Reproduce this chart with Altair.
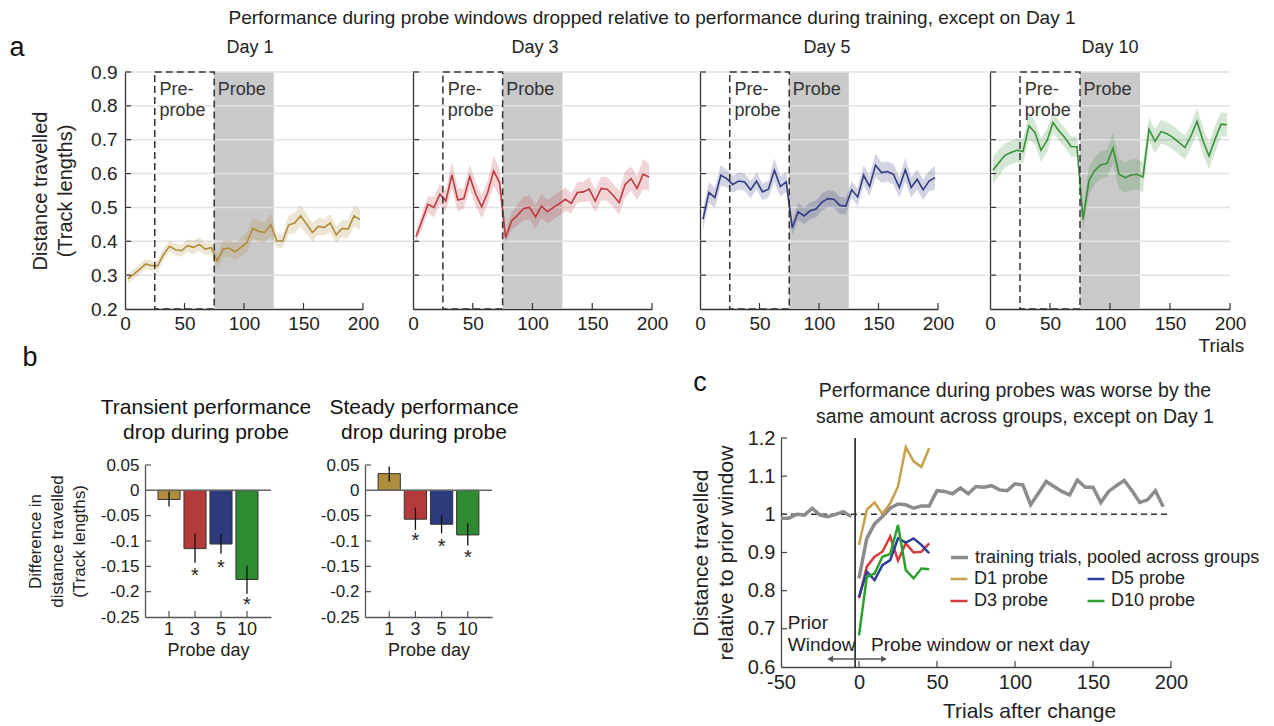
import altair as alt
import pandas as pd

FONT = "Liberation Sans"
TXT = "#222222"

# ---------------- Panel a data ----------------
trial_mid = [2.5 + 5 * i for i in range(40)]
day_names = ["Day 1", "Day 3", "Day 5", "Day 10"]
day_colors = ["#b08c3c", "#be3a40", "#323c82", "#3a8f3a"]

day1_mean = [0.290, 0.303, 0.318, 0.333, 0.328, 0.328, 0.362, 0.385, 0.375, 0.372,
             0.387, 0.382, 0.391, 0.377, 0.381, 0.342, 0.377, 0.380, 0.369, 0.382,
             0.397, 0.438, 0.429, 0.426, 0.450, 0.401, 0.401, 0.448, 0.454, 0.475,
             0.451, 0.426, 0.444, 0.441, 0.454, 0.419, 0.438, 0.436, 0.475, 0.464]
day1_err = [0.015, 0.015, 0.015, 0.015, 0.015, 0.015, 0.017, 0.017, 0.017, 0.018,
            0.018, 0.020, 0.020, 0.018, 0.020, 0.020, 0.025, 0.025, 0.025, 0.027,
            0.030, 0.030, 0.032, 0.030, 0.035, 0.020, 0.020, 0.028, 0.030, 0.032,
            0.030, 0.028, 0.025, 0.025, 0.027, 0.025, 0.025, 0.027, 0.030, 0.030]

day3_mean = [0.414, 0.460, 0.509, 0.500, 0.539, 0.519, 0.596, 0.522, 0.526, 0.591,
             0.539, 0.502, 0.544, 0.608, 0.573, 0.411, 0.460, 0.477, 0.497, 0.500,
             0.472, 0.504, 0.487, 0.500, 0.511, 0.524, 0.512, 0.544, 0.546, 0.554,
             0.519, 0.556, 0.554, 0.536, 0.514, 0.568, 0.585, 0.556, 0.598, 0.590]
day3_err = [0.015, 0.025, 0.025, 0.030, 0.030, 0.030, 0.040, 0.035, 0.030, 0.035,
            0.035, 0.035, 0.035, 0.045, 0.040, 0.015, 0.025, 0.030, 0.035, 0.035,
            0.035, 0.035, 0.035, 0.035, 0.035, 0.035, 0.030, 0.030, 0.030, 0.035,
            0.035, 0.035, 0.035, 0.035, 0.035, 0.040, 0.035, 0.035, 0.045, 0.040]

day5_mean = [0.465, 0.544, 0.529, 0.595, 0.585, 0.568, 0.578, 0.575, 0.552, 0.578,
             0.546, 0.554, 0.610, 0.562, 0.575, 0.440, 0.487, 0.475, 0.490, 0.495,
             0.516, 0.526, 0.524, 0.506, 0.504, 0.552, 0.531, 0.595, 0.562, 0.625,
             0.603, 0.606, 0.598, 0.559, 0.611, 0.559, 0.583, 0.552, 0.578, 0.588]
day5_err = [0.030, 0.030, 0.030, 0.030, 0.025, 0.025, 0.025, 0.025, 0.025, 0.025,
            0.025, 0.025, 0.035, 0.030, 0.030, 0.020, 0.025, 0.025, 0.025, 0.025,
            0.025, 0.025, 0.025, 0.025, 0.025, 0.025, 0.025, 0.030, 0.030, 0.035,
            0.030, 0.030, 0.030, 0.030, 0.035, 0.030, 0.030, 0.030, 0.030, 0.035]

day10_mean = [0.610, 0.633, 0.654, 0.662, 0.669, 0.665, 0.741, 0.721, 0.669, 0.697,
              0.751, 0.726, 0.706, 0.680, 0.679, 0.465, 0.580, 0.610, 0.626, 0.630,
              0.675, 0.598, 0.588, 0.596, 0.598, 0.590, 0.731, 0.695, 0.724, 0.718,
              0.706, 0.692, 0.677, 0.711, 0.754, 0.697, 0.652, 0.701, 0.746, 0.744]
day10_err = [0.040, 0.040, 0.035, 0.035, 0.035, 0.035, 0.040, 0.035, 0.035, 0.035,
             0.030, 0.030, 0.030, 0.030, 0.030, 0.030, 0.040, 0.040, 0.040, 0.040,
             0.045, 0.045, 0.045, 0.045, 0.045, 0.045, 0.035, 0.035, 0.035, 0.035,
             0.035, 0.035, 0.035, 0.035, 0.040, 0.040, 0.040, 0.040, 0.035, 0.035]

day_means = [day1_mean, day3_mean, day5_mean, day10_mean]
day_errs = [day1_err, day3_err, day5_err, day10_err]

preprobe_window = [25, 75]
probe_window = [75, 125]
a_yticks = [0.2, 0.3, 0.4, 0.5, 0.6, 0.7, 0.8, 0.9]
a_xticks = [0, 50, 100, 150, 200]

MAIN_TITLE = ("Performance during probe windows dropped relative to performance "
              "during training, except on Day 1")

# ---------------- Panel b data ----------------
probe_days = ["1", "3", "5", "10"]
bar_colors = ["#b08d3a", "#b43a3c", "#2d3a7e", "#2f8b32"]
trans_mean = [-0.018, -0.115, -0.106, -0.176]
trans_lo = [-0.032, -0.143, -0.125, -0.204]
trans_hi = [-0.003, -0.085, -0.086, -0.149]
trans_star = [None, -0.159, -0.143, -0.217]
steady_mean = [0.033, -0.057, -0.067, -0.088]
steady_lo = [0.017, -0.078, -0.085, -0.109]
steady_hi = [0.047, -0.034, -0.049, -0.065]
steady_star = [None, -0.090, -0.101, -0.123]
b_yticks = [0.05, 0.0, -0.05, -0.1, -0.15, -0.2, -0.25]

# ---------------- Panel c data ----------------
train_pre_x = [-50, -45, -40, -35, -30, -25, -20, -15, -10, -5]
train_pre_y = [0.990, 0.990, 1.000, 0.998, 1.016, 0.998, 0.994, 1.000, 1.007, 0.994]
train_post_x = [5 * i for i in range(40)]
train_post_y = [0.832, 0.937, 0.975, 0.994, 1.016, 1.027, 1.025, 1.016, 1.022, 1.022,
                1.062, 1.060, 1.054, 1.069, 1.054, 1.073, 1.071, 1.075, 1.064, 1.062,
                1.080, 1.077, 1.025, 1.055, 1.086, 1.073, 1.060, 1.051, 1.090, 1.071,
                1.071, 1.031, 1.060, 1.075, 1.089, 1.062, 1.031, 1.038, 1.062, 1.020]
probe_x = [0, 5, 10, 15, 20, 25, 30, 35, 40, 45]
d1_probe = [0.920, 1.012, 1.031, 1.001, 1.029, 1.073, 1.176, 1.139, 1.124, 1.174]
d3_probe = [0.780, 0.863, 0.889, 0.902, 0.942, 0.879, 0.924, 0.900, 0.902, 0.924]
d5_probe = [0.784, 0.850, 0.828, 0.867, 0.880, 0.937, 0.926, 0.937, 0.920, 0.898]
d10_probe = [0.683, 0.836, 0.845, 0.889, 0.896, 0.972, 0.854, 0.832, 0.858, 0.856]
probe_names = ["D1 probe", "D3 probe", "D5 probe", "D10 probe"]
probe_colors = ["#c6a24c", "#d23c3c", "#2c3e9c", "#2ca02c"]
train_label = "training trials, pooled across groups"
change_x = -2.5
c_xticks = [-50, 0, 50, 100, 150, 200]
c_yticks = [0.6, 0.7, 0.8, 0.9, 1.0, 1.1, 1.2]

# ---------------- layout (pixels, relative to the shared plot origin) ----------------
W, H = 1105, 595
PAD = {"left": 125, "top": 72, "right": 44, "bottom": 59}
A_XR = [[0, 238], [288, 527], [575, 813], [865, 1105]]
A_YR = [237, 0]
B_XR = [[20, 146], [240, 367]]
B_YR = [545, 393]
C_XR = [656, 1046]
C_YR = [595, 366]
TICK = 6

one = pd.DataFrame({"v": [0]})


def label_text(x, y, txt, size, color=TXT, align="center"):
    return alt.Chart(one).mark_text(fontSize=size, color=color, align=align,
                                    baseline="middle").encode(
        x=alt.value(x), y=alt.value(y), text=alt.value(txt))


def inward_ticks(xvals, yvals, X, Y, xr, yr, xf="t", yf="t", color="#333333"):
    xt = alt.Chart(pd.DataFrame({xf: xvals})).mark_rule(color=color, strokeWidth=1.2).encode(
        x=X(xf), y=alt.value(yr[0]), y2=alt.value(yr[0] - TICK))
    yt = alt.Chart(pd.DataFrame({yf: yvals})).mark_rule(color=color, strokeWidth=1.2).encode(
        y=Y(yf), x=alt.value(xr[0]), x2=alt.value(xr[0] + TICK))
    return [xt, yt]


# ---------------- Panel a ----------------
def day_panel(idx):
    first = idx == 0
    last = idx == 3
    col = day_colors[idx]
    xr = A_XR[idx]
    xs = alt.Scale(domain=[0, 200], range=xr, nice=False, zero=False)
    ys = alt.Scale(domain=[0.2, 0.9], range=A_YR, nice=False, zero=False)
    xkw = dict(orient="bottom", offset=A_YR[0] - H, values=a_xticks, labelFontSize=19,
               labelPadding=5, domainColor="#333333", domainWidth=1.3, ticks=False,
               grid=False, labelFlush=False)
    if last:
        xkw.update(title="Trials", titleFontSize=19, titleFontWeight="normal",
                   titleX=1073, titleY=36, titleAlign="left", titleBaseline="middle")
    else:
        xkw.update(title=None)
    ykw = dict(orient="left", offset=-xr[0], values=a_yticks, labels=first, format=".1f",
               labelFontSize=19, labelPadding=8, ticks=False, grid=False,
               domainColor="#333333", domainWidth=1.3)
    if first:
        ykw.update(title=["Distance travelled", "(Track lengths)"], titleFontSize=20,
                   titleFontWeight="normal", titlePadding=15, titleLineHeight=25)
    else:
        ykw.update(title=None)
    xax = alt.Axis(**xkw)
    yax = alt.Axis(**ykw)

    def X(f):
        return alt.X(f, type="quantitative", scale=xs, axis=xax)

    def Y(f):
        return alt.Y(f, type="quantitative", scale=ys, axis=yax)

    vals = day_means[idx]
    errs = day_errs[idx]
    df = pd.DataFrame({
        "trial": trial_mid,
        "dist": vals,
        "lo": [v - e for v, e in zip(vals, errs)],
        "hi": [v + e for v, e in zip(vals, errs)],
    })
    probe = alt.Chart(pd.DataFrame({"x0": [probe_window[0]], "x1": [probe_window[1]],
                                    "y0": [0.2], "y1": [0.9]})).mark_rect(
        fill="#c9c9c9").encode(x=X("x0"), x2="x1", y=Y("y0"), y2="y1")
    grid = alt.Chart(pd.DataFrame({"g": a_yticks[1:]})).mark_rule(
        color="#e2e2e2", strokeWidth=1.5).encode(
        y=Y("g"), x=alt.value(xr[0]), x2=alt.value(xr[1] + (0 if last else 50)))
    band = alt.Chart(df).mark_area(color=col, opacity=0.22).encode(
        x=X("trial"), y=Y("lo"), y2="hi")
    line = alt.Chart(df).mark_line(color=col, strokeWidth=1.6).encode(
        x=X("trial"), y=Y("dist"))
    box = alt.Chart(pd.DataFrame({"x0": [preprobe_window[0]], "x1": [preprobe_window[1]],
                                  "y0": [0.2], "y1": [0.9]})).mark_rect(
        fillOpacity=0, stroke="#333333", strokeDash=[7, 4], strokeWidth=1.5).encode(
        x=X("x0"), x2="x1", y=Y("y0"), y2="y1")
    labels = alt.Chart(pd.DataFrame({"x": [29, 29, 78], "y": [0.847, 0.786, 0.847],
                                     "t": ["Pre-", "probe", "Probe"]})).mark_text(
        align="left", baseline="middle", fontSize=18, color="#333333").encode(
        x=X("x"), y=Y("y"), text="t:N")
    ticks = inward_ticks(a_xticks[1:], a_yticks[1:], X, Y, xr, A_YR)
    return alt.layer(probe, grid, band, line, box, labels, *ticks)


# ---------------- Panel b ----------------
def bar_panel(idx, means, los, his, stars):
    first = idx == 0
    xr = B_XR[idx]
    df = pd.DataFrame({"day": probe_days, "m": means, "lo": los, "hi": his,
                       "col": bar_colors, "z": [0.0] * 4})
    sdf = pd.DataFrame({"day": [d for d, s in zip(probe_days, stars) if s is not None],
                        "s": [s for s in stars if s is not None]})
    ys = alt.Scale(domain=[-0.25, 0.05], range=B_YR, nice=False, zero=False)
    xs = alt.Scale(domain=probe_days, range=xr, paddingInner=0.15, paddingOuter=0.5)
    xax = alt.Axis(orient="bottom", offset=B_YR[0] - H, labelAngle=0, labelFontSize=18,
                   labelPadding=3, ticks=False, domainColor="#555555", domainWidth=1.3,
                   title="Probe day", titleFontSize=18, titleFontWeight="normal",
                   titlePadding=3)
    ykw = dict(orient="left", offset=-xr[0], values=b_yticks,
               labelExpr="toString(round(datum.value*100)/100)",
               labelFontSize=17, labelPadding=6, ticks=False, grid=False,
               domainColor="#555555", domainWidth=1.3)
    if first:
        ykw.update(title=["Difference in", "distance travelled", "(Track lengths)"],
                   titleFontSize=17, titleFontWeight="normal", titleLineHeight=22,
                   titlePadding=12)
    else:
        ykw.update(title=None)
    yax = alt.Axis(**ykw)

    def Xf(f):
        return alt.X(f, type="nominal", sort=probe_days, scale=xs, axis=xax)

    X = Xf("day")

    def Y(f):
        return alt.Y(f, type="quantitative", scale=ys, axis=yax)

    bars = alt.Chart(df).mark_bar(stroke="#333333", strokeWidth=1).encode(
        x=X, y=Y("m"), y2="z", color=alt.Color("col:N", scale=None))
    zero = alt.Chart(df.head(1)).mark_rule(color="#666666", strokeWidth=1.5).encode(
        y=Y("z"), x=alt.value(xr[0]), x2=alt.value(xr[1]))
    err = alt.Chart(df).mark_rule(color="#111111", strokeWidth=1.3).encode(
        x=X, y=Y("lo"), y2="hi")
    star = alt.Chart(sdf).mark_text(text="*", fontSize=20, color="#222222",
                                    baseline="middle", dy=5).encode(x=X, y=Y("s"))
    ticks = inward_ticks(probe_days, [t for t in b_yticks if t not in (0.0, -0.25)],
                         Xf, Y, xr, B_YR, xf="day", yf="m", color="#555555")
    return alt.layer(bars, zero, err, star, *ticks)


# ---------------- Panel c ----------------
def c_panel():
    xs = alt.Scale(domain=[-50, 200], range=C_XR, nice=False, zero=False)
    ys = alt.Scale(domain=[0.6, 1.2], range=C_YR, nice=False, zero=False)
    xax = alt.Axis(orient="bottom", offset=0, values=c_xticks,
                   labelExpr="toString(datum.value)", labelFontSize=20,
                   labelPadding=5, ticks=False, grid=False, domainColor="#444444",
                   domainWidth=1.3, title="Trials after change", titleFontSize=21,
                   titleFontWeight="normal", titlePadding=8, labelFlush=False,
                   titleX=904)
    yax = alt.Axis(orient="left", offset=-C_XR[0], values=c_yticks,
                   labelExpr="toString(round(datum.value*10)/10)",
                   labelFontSize=20, labelPadding=6, ticks=False, grid=False,
                   domainColor="#444444", domainWidth=1.3,
                   title=["Distance travelled", "relative to prior window"],
                   titleFontSize=21, titleFontWeight="normal", titlePadding=11,
                   titleLineHeight=25)

    def X(f):
        return alt.X(f, type="quantitative", scale=xs, axis=xax)

    def Y(f):
        return alt.Y(f, type="quantitative", scale=ys, axis=yax)

    tdf = pd.DataFrame({
        "x": train_pre_x + train_post_x,
        "y": train_pre_y + train_post_y,
        "seg": ["pre"] * len(train_pre_x) + ["post"] * len(train_post_x),
        "label": [train_label] * (len(train_pre_x) + len(train_post_x)),
    })
    rows = []
    for name, vals in zip(["D1 probe", "D3 probe", "D5 probe", "D10 probe"],
                          [d1_probe, d3_probe, d5_probe, d10_probe]):
        for x, v in zip(probe_x, vals):
            rows.append({"x": x, "y": v, "series": name})
    pdf = pd.DataFrame(rows)

    vline = alt.Chart(pd.DataFrame({"x": [change_x], "y0": [0.6], "y1": [1.2]})).mark_rule(
        color="#111111", strokeWidth=1.5).encode(x=X("x"), y=Y("y0"), y2="y1")
    hline = alt.Chart(pd.DataFrame({"x0": [-50], "x1": [200], "y": [1.0]})).mark_rule(
        color="#333333", strokeWidth=1.5, strokeDash=[6, 4]).encode(
        x=X("x0"), x2="x1", y=Y("y"))
    train = alt.Chart(tdf).mark_line(strokeWidth=3.5).encode(
        x=X("x"), y=Y("y"), detail="seg:N",
        color=alt.Color("label:N", scale=alt.Scale(domain=[train_label], range=["#8c8c8c"]),
                        legend=alt.Legend(orient="none", legendX=824, legendY=475,
                                          title=None, symbolType="stroke",
                                          symbolStrokeWidth=3.5, symbolSize=289,
                                          labelFontSize=18, labelColor=TXT,
                                          labelOffset=5, labelLimit=400)))
    probes = alt.Chart(pdf).mark_line(strokeWidth=2.5).encode(
        x=X("x"), y=Y("y"),
        color=alt.Color("series:N", sort=probe_names,
                        scale=alt.Scale(domain=probe_names, range=probe_colors),
                        legend=alt.Legend(orient="none", legendX=824, legendY=497,
                                          title=None, columns=2, columnPadding=33,
                                          rowPadding=3, symbolType="stroke",
                                          symbolStrokeWidth=2.5, symbolSize=289,
                                          labelFontSize=18, labelColor=TXT,
                                          labelOffset=5, labelLimit=400)))
    arrow = alt.Chart(pd.DataFrame({"x0": [-18.5], "x1": [16.0], "y": [0.621]})).mark_rule(
        color="#555555", strokeWidth=1.3).encode(x=X("x0"), x2="x1", y=Y("y"))
    heads = alt.Chart(pd.DataFrame({"x": [-18.5, 16.0], "y": [0.621, 0.621],
                                    "shp": ["triangle-left", "triangle-right"]})).mark_point(
        filled=True, size=45, color="#555555", opacity=1).encode(
        x=X("x"), y=Y("y"), shape=alt.Shape("shp:N", scale=None))
    notes = alt.Chart(pd.DataFrame({"x": [-45.6, -45.6, 7.7], "y": [0.715, 0.658, 0.658],
                                    "t": ["Prior", "Window", "Probe window or next day"]})
                      ).mark_text(align="left", baseline="middle", fontSize=19,
                                  color=TXT).encode(x=X("x"), y=Y("y"), text="t:N")
    ticks = inward_ticks(c_xticks[1:], c_yticks[1:], X, Y, C_XR, C_YR, color="#444444")
    return alt.layer(vline, hline, train, probes, arrow, heads, notes, *ticks).resolve_scale(
        color="independent")


texts = [
    label_text(527, -54, MAIN_TITLE, 19),
    label_text(-108, -24, "a", 27, "#111111"),
    label_text(125, -24, day_names[0], 18),
    label_text(410, -24, day_names[1], 18),
    label_text(702, -24, day_names[2], 18),
    label_text(985, -24, day_names[3], 18),
    label_text(-95, 286, "b", 27, "#111111"),
    label_text(81, 336, "Transient performance", 21, "#111111"),
    label_text(81, 361, "drop during probe", 21, "#111111"),
    label_text(299, 336, "Steady performance", 21, "#111111"),
    label_text(299, 361, "drop during probe", 21, "#111111"),
    label_text(575, 311, "c", 27, "#111111"),
    label_text(890, 319, "Performance during probes was worse by the", 19.5),
    label_text(890, 345, "same amount across groups, except on Day 1", 19.5),
]

panels = [day_panel(i) for i in range(4)] + [
    bar_panel(0, trans_mean, trans_lo, trans_hi, trans_star),
    bar_panel(1, steady_mean, steady_lo, steady_hi, steady_star),
    c_panel(),
]

chart = alt.layer(*panels, *texts).resolve_scale(
    x="independent", y="independent", color="independent"
).properties(
    width=W, height=H, padding=PAD, autosize=alt.AutoSizeParams(type="none")
).configure(font=FONT).configure_view(stroke=None).configure_axis(
    labelColor=TXT, titleColor=TXT)

chart.save("out.html", embed_options={"renderer": "svg", "actions": False})
